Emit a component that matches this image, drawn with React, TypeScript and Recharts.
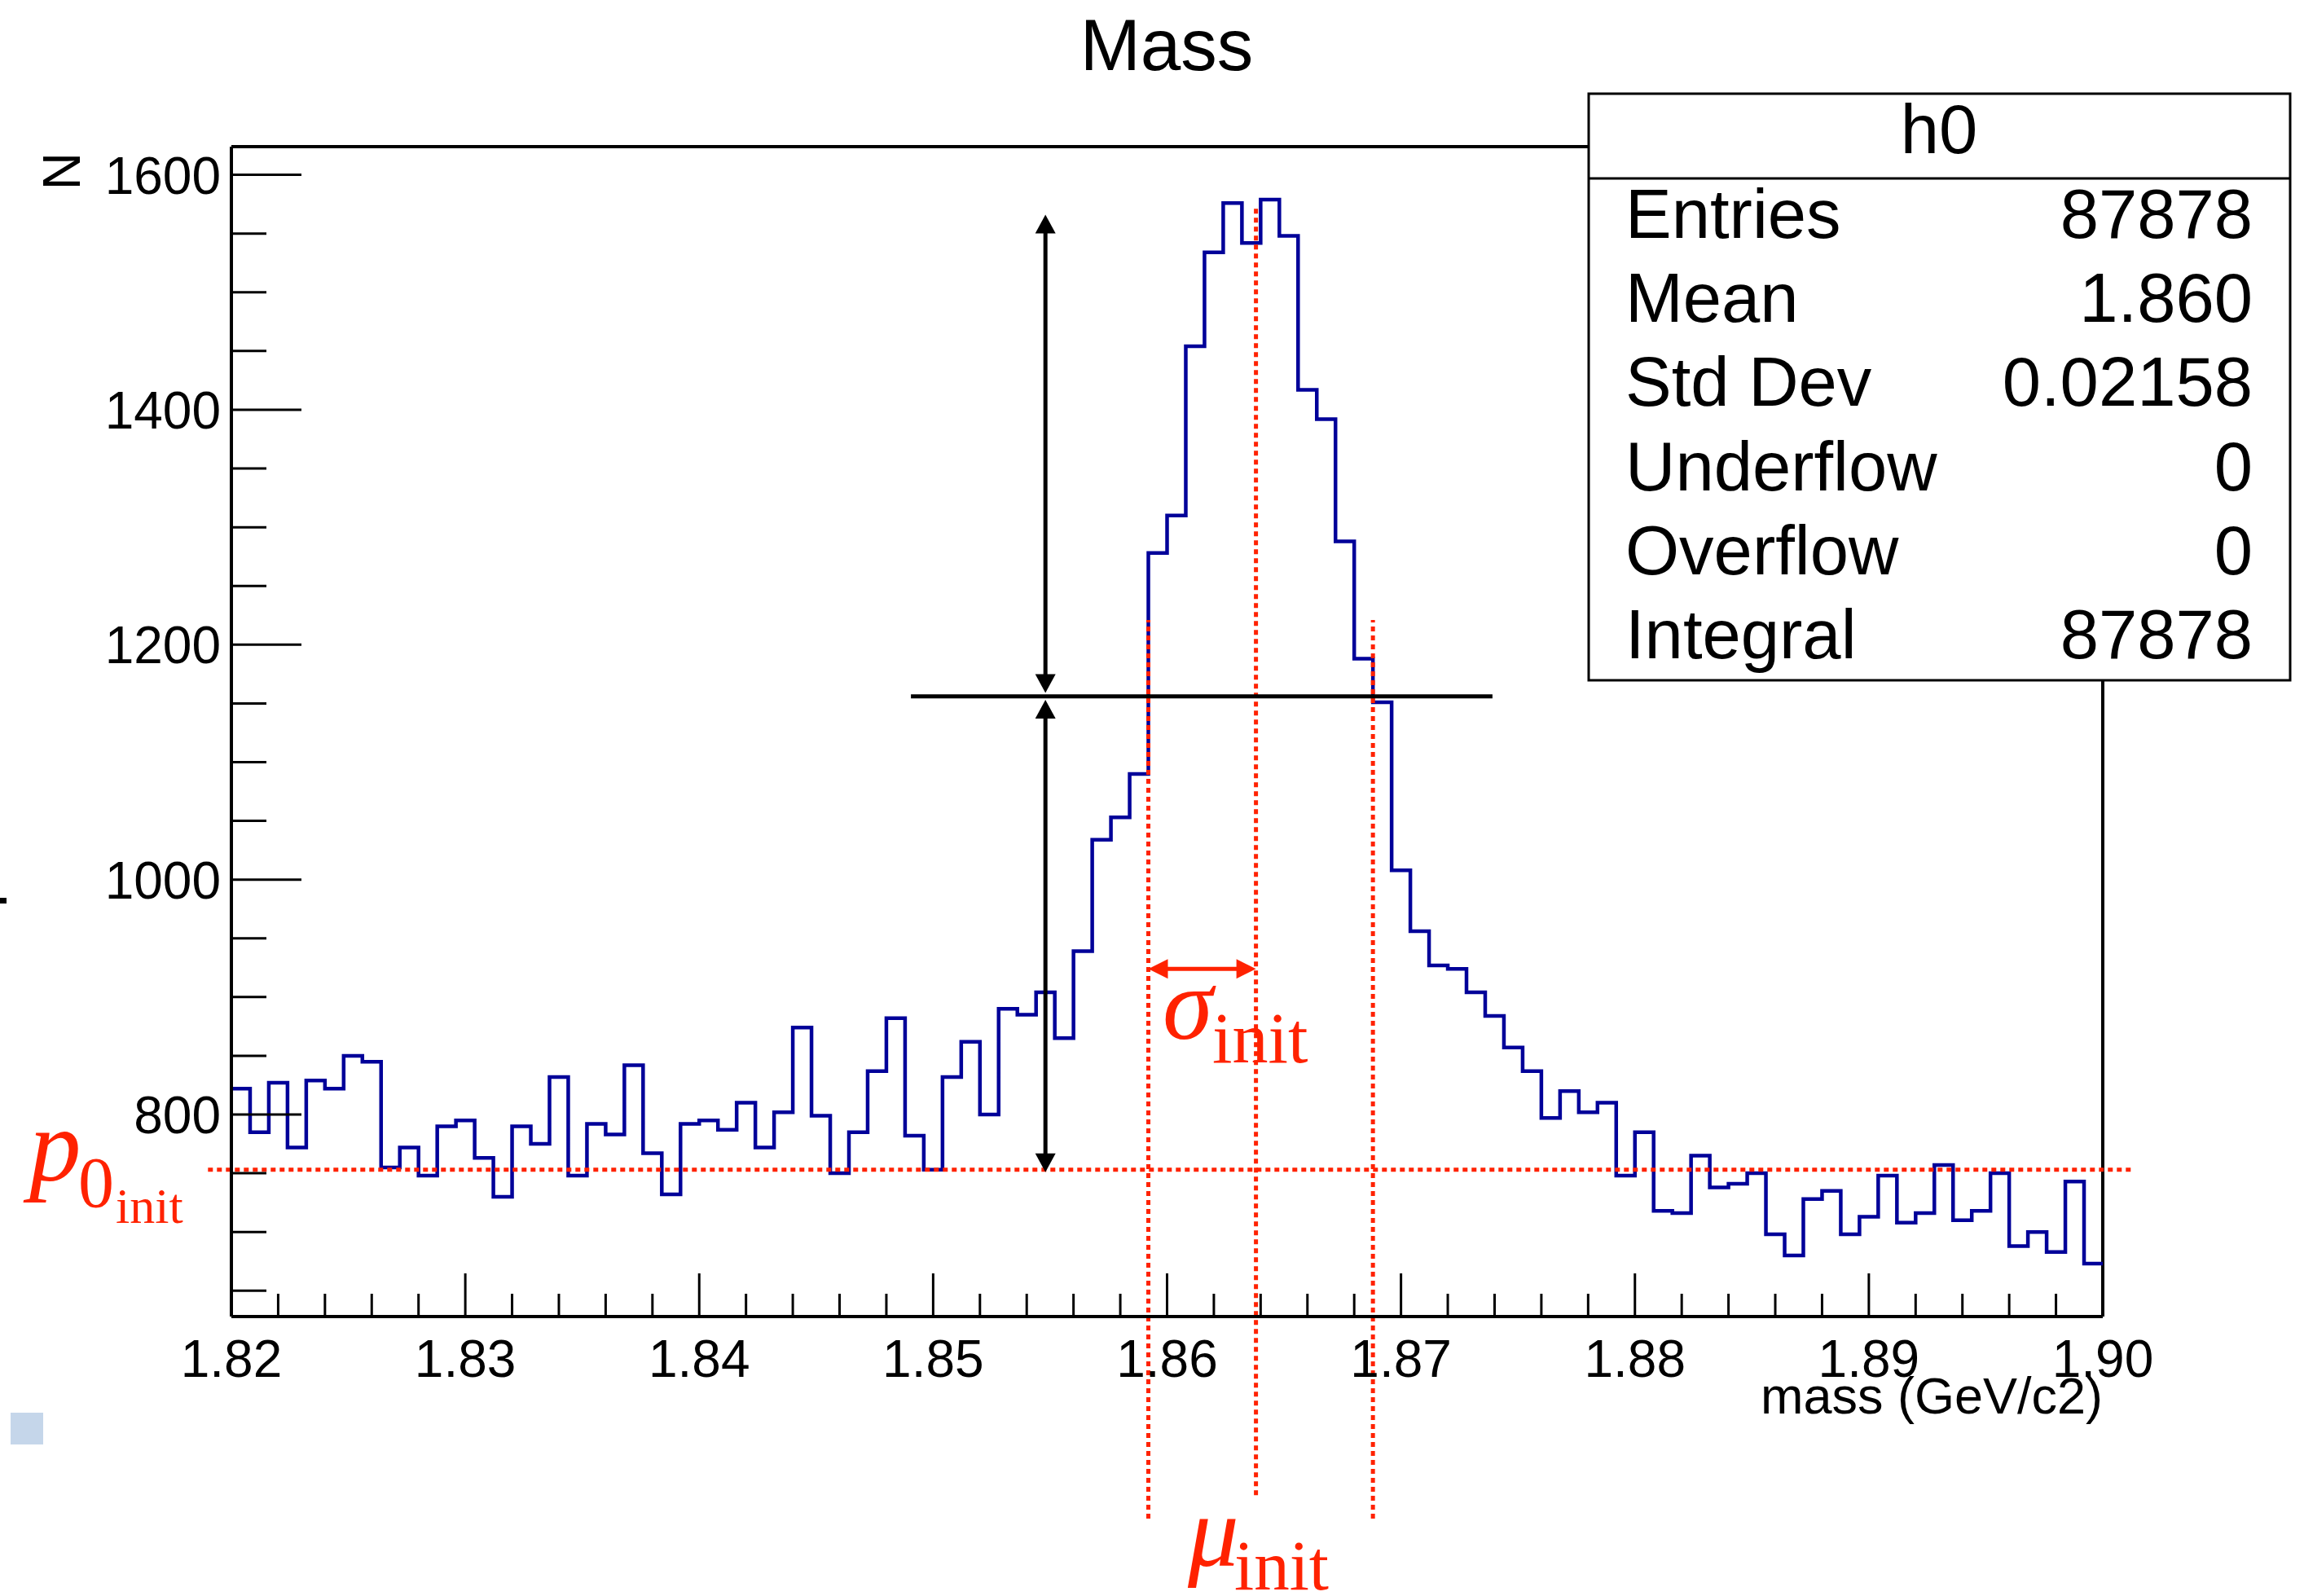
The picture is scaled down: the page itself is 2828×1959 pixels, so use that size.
import { Line, LineChart, ReferenceLine, XAxis, YAxis } from 'recharts'

// histogram h0: 100 bins from 1.82 to 1.90 GeV/c2
const binLow = 1.82
const binWidth = 0.0008
const counts = [
  822, 785, 827, 772, 829, 822, 850, 845, 755, 772,
  748, 790, 795, 763, 730, 790, 775, 832, 748, 792,
  783, 842, 767, 732, 792, 795, 787, 810, 772, 802,
  874, 799, 750, 785, 837, 882, 782, 753, 832, 862,
  800, 890, 885, 904, 865, 939, 1034, 1053, 1090, 1278,
  1310, 1454, 1534, 1576, 1542, 1579, 1548, 1417, 1392, 1288,
  1188, 1151, 1008, 956, 927, 924, 904, 884, 857, 837,
  797, 820, 802, 810, 748, 785, 718, 716, 765, 738,
  741, 750, 698, 680, 728, 735, 698, 713, 748, 708,
  716, 757, 710, 718, 750, 688, 700, 683, 743, 673,
]

const xLabels = [1.82, 1.83, 1.84, 1.85, 1.86, 1.87, 1.88, 1.89, 1.9]
const yLabels = [800, 1000, 1200, 1400, 1600]

const statNames = ['Entries', 'Mean', 'Std Dev', 'Underflow', 'Overflow', 'Integral']
const statValues = ['87878', '1.860', '0.02158', '0', '0', '87878']

// initial fit parameters drawn on top
const p0Init = 753
const muInit = 1.8638
const sigmaLeft = 1.8592
const sigmaRight = 1.8688
const halfMax = 1156
const arrowX = 1.8548
const arrowTop = 1566

const xTicks: number[] = []
for (let i = 0; i <= 40; i++) xTicks.push(Number((1.82 + i * 0.002).toFixed(3)))
const yTicks: number[] = []
for (let v = 650; v <= 1600; v += 50) yTicks.push(v)

const data = counts.map((n, i) => ({ x: Number((binLow + i * binWidth).toFixed(4)), n }))
data.push({ x: 1.9, n: counts[counts.length - 1] })

const SANS = '"Liberation Sans", Arial, Helvetica, sans-serif'
const SERIF = '"Liberation Serif", "Times New Roman", serif'
const RED = '#ff2200'

function XTick(props: any) {
  const { x, y, payload } = props
  const v = payload.value as number
  const major = xLabels.some((l) => Math.abs(l - v) < 1e-6)
  return (
    <g>
      <line x1={x} y1={y} x2={x} y2={y - (major ? 53 : 28)} stroke="#000" strokeWidth={3} />
      {major && (
        <text x={x} y={y + 74} textAnchor="middle" fontSize={64} fontFamily={SANS} fill="#000">
          {v.toFixed(2)}
        </text>
      )}
    </g>
  )
}

function YTick(props: any) {
  const { x, y, payload } = props
  const v = payload.value as number
  const major = yLabels.includes(v)
  return (
    <g>
      <line x1={x} y1={y} x2={x + (major ? 86 : 43)} y2={y} stroke="#000" strokeWidth={3} />
      {major && (
        <text x={x - 13} y={y + 23} textAnchor="end" fontSize={64} fontFamily={SANS} fill="#000">
          {v}
        </text>
      )}
    </g>
  )
}

function arrowShape(color: string, width: number, head: number, half: number) {
  return (p: any) => {
    const { x1, y1, x2, y2 } = p
    const len = Math.hypot(x2 - x1, y2 - y1) || 1
    const ux = (x2 - x1) / len
    const uy = (y2 - y1) / len
    const nx = -uy
    const ny = ux
    const tri = (tx: number, ty: number, dx: number, dy: number) =>
      `${tx},${ty} ${tx - dx * head + nx * half},${ty - dy * head + ny * half} ${tx - dx * head - nx * half},${ty - dy * head - ny * half}`
    return (
      <g>
        <line x1={x1 + ux * head * 0.8} y1={y1 + uy * head * 0.8} x2={x2 - ux * head * 0.8} y2={y2 - uy * head * 0.8} stroke={color} strokeWidth={width} />
        <polygon points={tri(x2, y2, ux, uy)} fill={color} />
        <polygon points={tri(x1, y1, -ux, -uy)} fill={color} />
      </g>
    )
  }
}

export default function App() {
  return (
    <div style={{ position: 'absolute', left: 0, top: 0, width: 2828, height: 1959, background: '#fff' }}>
      <LineChart width={2828} height={1959} data={data} margin={{ top: 180, right: 247, bottom: 0, left: 0 }}>
        <XAxis
          dataKey="x"
          type="number"
          domain={[1.82, 1.9]}
          allowDataOverflow
          ticks={xTicks}
          interval={0}
          height={343}
          tickSize={0}
          tickMargin={0}
          tick={XTick}
          axisLine={{ stroke: '#000', strokeWidth: 4 }}
        />
        <YAxis
          type="number"
          domain={[628, 1624]}
          allowDataOverflow
          ticks={yTicks}
          interval={0}
          width={284}
          tickSize={0}
          tickMargin={0}
          tick={YTick}
          axisLine={{ stroke: '#000', strokeWidth: 4 }}
        />
        <ReferenceLine y={1624} stroke="#000" strokeWidth={4} />
        <ReferenceLine x={1.9} stroke="#000" strokeWidth={4} />
        <Line
          type="stepAfter"
          dataKey="n"
          stroke="#000099"
          strokeWidth={4.5}
          dot={false}
          activeDot={false}
          isAnimationActive={false}
        />
        <ReferenceLine
          segment={[{ x: 1.819, y: p0Init }, { x: 1.9013, y: p0Init }]}
          ifOverflow="visible"
          stroke={RED}
          strokeWidth={5}
          strokeDasharray="6 5"
        />
        <ReferenceLine
          segment={[{ x: sigmaLeft, y: 456 }, { x: sigmaLeft, y: 1221 }]}
          ifOverflow="visible"
          stroke={RED}
          strokeWidth={5}
          strokeDasharray="6 5"
        />
        <ReferenceLine
          segment={[{ x: muInit, y: 476 }, { x: muInit, y: 1573 }]}
          ifOverflow="visible"
          stroke={RED}
          strokeWidth={5}
          strokeDasharray="6 5"
        />
        <ReferenceLine
          segment={[{ x: sigmaRight, y: 456 }, { x: sigmaRight, y: 1221 }]}
          ifOverflow="visible"
          stroke={RED}
          strokeWidth={5}
          strokeDasharray="6 5"
        />
        <ReferenceLine
          segment={[{ x: 1.84905, y: halfMax }, { x: 1.87391, y: halfMax }]}
          ifOverflow="visible"
          stroke="#000"
          strokeWidth={5}
        />
        <ReferenceLine
          segment={[{ x: arrowX, y: halfMax + 3 }, { x: arrowX, y: arrowTop }]}
          ifOverflow="visible"
          shape={arrowShape('#000', 5, 23, 12.5)}
        />
        <ReferenceLine
          segment={[{ x: arrowX, y: p0Init - 2 }, { x: arrowX, y: halfMax - 3 }]}
          ifOverflow="visible"
          shape={arrowShape('#000', 5, 23, 12.5)}
        />
        <ReferenceLine
          segment={[{ x: sigmaLeft, y: 924 }, { x: muInit, y: 924 }]}
          ifOverflow="visible"
          shape={arrowShape(RED, 5, 24, 12)}
        />
      </LineChart>

      <svg width={2828} height={1959} style={{ position: 'absolute', left: 0, top: 0, pointerEvents: 'none' }}>
        <text x={1432} y={86} textAnchor="middle" fontSize={89} fontFamily={SANS} fill="#000">
          Mass
        </text>
        <text transform="translate(98,187) rotate(-90)" textAnchor="end" fontSize={64} fontFamily={SANS} fill="#000">
          N
        </text>
        <text x={2581} y={1735} textAnchor="end" fontSize={63} fontFamily={SANS} fill="#000">
          mass (GeV/c2)
        </text>
        <rect x={0} y={1102} width={8} height={7} fill="#000" />
        <rect x={13} y={1734} width={40} height={39} fill="#c5d6ea" />

        <rect x={1950} y={115} width={861} height={720} fill="#fff" stroke="#000" strokeWidth={3} />
        <line x1={1950} y1={219} x2={2811} y2={219} stroke="#000" strokeWidth={3} />
        <text x={2380} y={188} textAnchor="middle" fontSize={85} fontFamily={SANS} fill="#000">
          h0
        </text>
        {statNames.map((name, i) => (
          <g key={name}>
            <text x={1995} y={292 + i * 103.2} fontSize={85} fontFamily={SANS} fill="#000">
              {name}
            </text>
            <text x={2765} y={292 + i * 103.2} textAnchor="end" fontSize={85} fontFamily={SANS} fill="#000">
              {statValues[i]}
            </text>
          </g>
        ))}

        <g fill={RED} fontFamily={SERIF}>
          <text x={36} y={1449} fontSize={127} fontStyle="italic">p</text>
          <text x={96} y={1481} fontSize={88}>0</text>
          <text x={142} y={1501} fontSize={62}>init</text>

          <text x={1427} y={1275} fontSize={125} fontStyle="italic">σ</text>
          <text x={1488} y={1304} fontSize={88}>init</text>

          <text x={1458} y={1922} fontSize={125} fontStyle="italic">μ</text>
          <text x={1515} y={1951} fontSize={87}>init</text>
        </g>
      </svg>
    </div>
  )
}
